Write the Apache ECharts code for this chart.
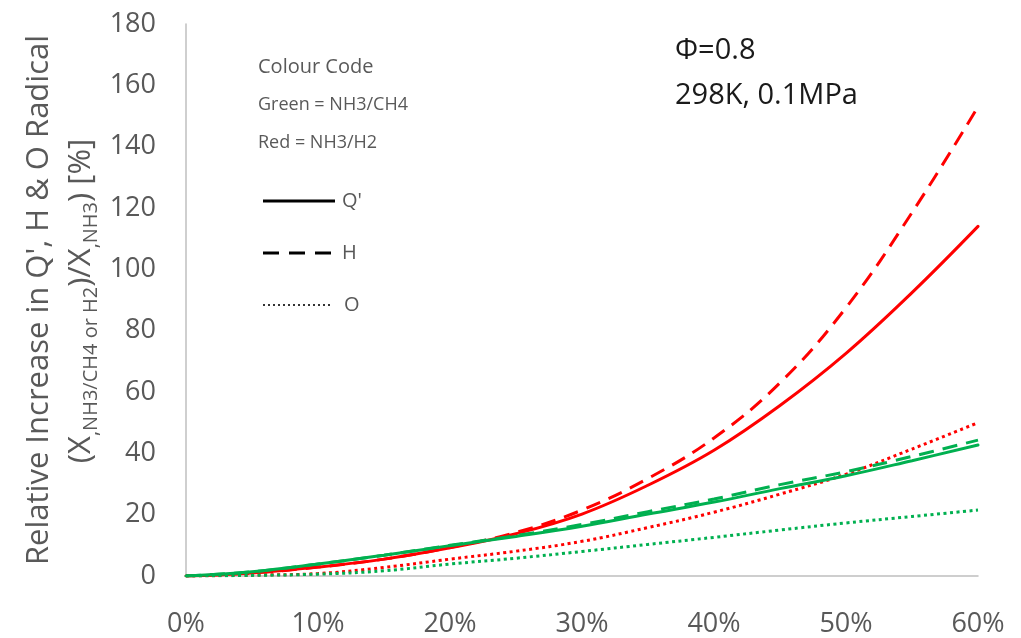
<!DOCTYPE html>
<html>
<head>
<meta charset="utf-8">
<script src="https://cdn.jsdelivr.net/npm/echarts@6/dist/echarts.min.js"></script>
<style>
  html, body { margin: 0; padding: 0; background: #ffffff; }
  #chart { width: 1021px; height: 638px; }
</style>
</head>
<body>
<div id="chart"></div>
<script>
// ---- data ----
const xPercent = [0, 5, 10, 15, 20, 25, 30, 35, 40, 45, 50, 55, 60];
const redQ   = [0, 1.0, 2.9, 5.5, 9.2, 13.8, 20.2, 29.6, 41.0, 55.6, 72.6, 92.4, 114];
const redH   = [0, 1.0, 2.9, 5.5, 9.3, 14.2, 21.5, 31.8, 45.0, 63.0, 87.5, 118.5, 153];
const redO   = [0, 0.3, 0.8, 2.8, 5.5, 8.1, 11.3, 15.8, 20.8, 26.7, 33.2, 41.4, 50];
const greenQ = [0, 1.4, 3.9, 6.8, 9.9, 12.9, 16.2, 20.2, 24.1, 28.5, 32.7, 37.6, 42.7];
const greenH = [0, 1.4, 3.9, 6.8, 10.0, 13.2, 16.8, 21.0, 25.1, 29.8, 34.0, 39.0, 44.3];
const greenO = [0, 0.2, 0.6, 1.7, 3.9, 5.8, 8.0, 10.3, 12.6, 15.0, 17.3, 19.4, 21.5];
const xTickLabels = ['0%', '10%', '20%', '30%', '40%', '50%', '60%'];
const yTickLabels = ['0', '20', '40', '60', '80', '100', '120', '140', '160', '180'];
const legendLines = ["Colour Code", "Green = NH3/CH4", "Red = NH3/H2"];
const styleKeys = ["Q'", "H", "O"];
const noteLines = ["\u03A6=0.8", "298K, 0.1MPa"];

const RED = '#FF0000';
const GREEN = '#00B050';
const TXT = '#595959';
const FONT = 'Open Sans';

function pairs(ys) { return xPercent.map((x, i) => [x, ys[i]]); }

function mkSeries(name, ys, color, type) {
  return {
    name: name,
    type: 'line',
    data: pairs(ys),
    smooth: 0.4,
    showSymbol: false,
    symbol: 'none',
    silent: true,
    lineStyle: { color: color, width: 3, type: type, cap: type === 'solid' ? 'round' : 'butt' }
  };
}

const chart = echarts.init(document.getElementById('chart'), null, { renderer: 'canvas' });

const option = {
  animation: false,
  backgroundColor: '#ffffff',
  grid: { left: 186, right: 43, top: 24, bottom: 61, containLabel: false },
  xAxis: {
    type: 'value', min: 0, max: 60, interval: 10,
    axisLine: { show: true, lineStyle: { color: '#bfbfbf', width: 1.5 } },
    axisTick: { show: false },
    splitLine: { show: false },
    axisLabel: {
      color: TXT, fontFamily: FONT, fontSize: 27, margin: 35,
      formatter: v => xTickLabels[Math.round(v / 10)]
    }
  },
  yAxis: {
    type: 'value', min: 0, max: 180, interval: 20,
    axisLine: { show: true, lineStyle: { color: '#bfbfbf', width: 1.5 } },
    axisTick: { show: false },
    splitLine: { show: false },
    axisLabel: {
      color: TXT, fontFamily: FONT, fontSize: 27, margin: 30,
      formatter: v => yTickLabels[Math.round(v / 20)]
    }
  },
  series: [
    mkSeries('NH3/H2 O', redO, RED, [3, 3.5]),
    mkSeries('NH3/H2 H', redH, RED, [15, 9]),
    mkSeries('NH3/H2 Q', redQ, RED, 'solid'),
    mkSeries('NH3/CH4 O', greenO, GREEN, [3, 3.5]),
    mkSeries('NH3/CH4 H', greenH, GREEN, [15, 9]),
    mkSeries('NH3/CH4 Q', greenQ, GREEN, 'solid')
  ],
  graphic: [
    // y-axis title line 1
    {
      type: 'text', x: 39, y: 300, rotation: Math.PI / 2,
      style: {
        text: "Relative Increase in Q', H & O Radical",
        fill: TXT, font: '31px "Open Sans"', align: 'center', verticalAlign: 'middle'
      }
    },
    // y-axis title line 2 with subscripts
    {
      type: 'text', x: 79, y: 301, rotation: Math.PI / 2,
      style: {
        text: '{m|(X}{s|,NH3/CH4 or H2}{m|)/X}{s|,NH3}{m|) [%]}',
        align: 'center', verticalAlign: 'middle',
        rich: {
          m: { fill: TXT, fontFamily: FONT, fontSize: 31, lineHeight: 36, verticalAlign: 'bottom' },
          s: { fill: TXT, fontFamily: FONT, fontSize: 20, lineHeight: 36, verticalAlign: 'bottom', padding: [0, 0, -4, 0] }
        }
      }
    },
    // colour code legend text
    { type: 'text', x: 258, y: 67, style: { text: legendLines[0], fill: TXT, font: '20px "Open Sans"', verticalAlign: 'middle' } },
    { type: 'text', x: 258, y: 105, style: { text: legendLines[1], fill: TXT, font: '18px "Open Sans"', verticalAlign: 'middle' } },
    { type: 'text', x: 258, y: 143, style: { text: legendLines[2], fill: TXT, font: '18px "Open Sans"', verticalAlign: 'middle' } },
    // line-style legend
    { type: 'line', shape: { x1: 263, y1: 201, x2: 335, y2: 201 }, style: { stroke: '#000', lineWidth: 3 } },
    { type: 'text', x: 342, y: 201, style: { text: styleKeys[0], fill: TXT, font: '20px "Open Sans"', verticalAlign: 'middle' } },
    { type: 'line', shape: { x1: 263, y1: 253, x2: 335, y2: 253 }, style: { stroke: '#000', lineWidth: 3, lineDash: [16, 10] } },
    { type: 'text', x: 342, y: 253, style: { text: styleKeys[1], fill: TXT, font: '20px "Open Sans"', verticalAlign: 'middle' } },
    { type: 'line', shape: { x1: 263, y1: 305, x2: 331, y2: 305 }, style: { stroke: '#333', lineWidth: 2, lineDash: [2, 3] } },
    { type: 'text', x: 344, y: 305, style: { text: styleKeys[2], fill: TXT, font: '20px "Open Sans"', verticalAlign: 'middle' } },
    // conditions note
    { type: 'text', x: 675, y: 51, style: { text: noteLines[0], fill: '#1a1a1a', font: '29px "Open Sans"', verticalAlign: 'middle' } },
    { type: 'text', x: 675, y: 96, style: { text: noteLines[1], fill: '#1a1a1a', font: '29px "Open Sans"', verticalAlign: 'middle' } }
  ]
};

chart.setOption(option);
</script>
</body>
</html>
